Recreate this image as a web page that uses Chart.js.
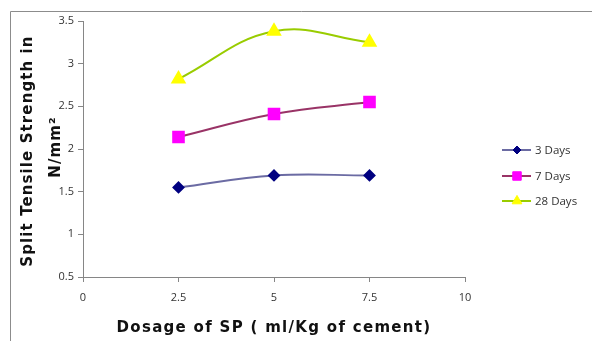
<!DOCTYPE html>
<html>
<head>
<meta charset="utf-8">
<script src="https://cdn.jsdelivr.net/npm/chart.js@4/dist/chart.umd.min.js"></script>
<style>
  html, body { margin: 0; padding: 0; background: #fff; }
  #wrap { width: 592px; height: 341px; position: relative; }
</style>
</head>
<body>
<div id="wrap"><canvas id="myChart" width="592" height="341"></canvas></div>
<script>
// data
var dosage = [2.5, 5, 7.5];
var days3 = [1.55, 1.69, 1.69];
var days7 = [2.14, 2.41, 2.55];
var days28 = [2.82, 3.38, 3.25];
var seriesNames = ['3 Days', '7 Days', '28 Days'];
var yTicks = [0.5, 1, 1.5, 2, 2.5, 3, 3.5];
var xTicks = [0, 2.5, 5, 7.5, 10];
var xTitle = 'Dosage of SP ( ml/Kg of cement)';
var yTitle = ['Split Tensile Strength in', 'N/mm\u00b2'];

function pts(vals) {
  return dosage.map(function (d, i) { return { x: d, y: vals[i] }; });
}

// outer frame like the pasted excel chart
var framePlugin = {
  id: 'frame',
  beforeDraw: function (chart) {
    var ctx = chart.ctx;
    ctx.save();
    ctx.strokeStyle = '#8c8c8c';
    ctx.lineWidth = 1;
    ctx.beginPath();
    ctx.moveTo(10.5, 341);
    ctx.lineTo(10.5, 11.5);
    ctx.lineTo(592, 11.5);
    ctx.stroke();
    ctx.restore();
  }
};

// axis titles drawn by hand so they get the wide letter spacing
var titlePlugin = {
  id: 'axisTitles',
  afterDraw: function (chart) {
    var ctx = chart.ctx;
    var area = chart.chartArea;
    ctx.save();
    ctx.fillStyle = '#111';
    ctx.font = 'bold 15px "DejaVu Sans"';
    ctx.letterSpacing = '1.3px';
    ctx.textAlign = 'center';
    ctx.textBaseline = 'middle';
    ctx.fillText(xTitle, (area.left + area.right) / 2, 328);
    ctx.translate(0, 151);
    ctx.rotate(-Math.PI / 2);
    ctx.letterSpacing = '1.1px';
    ctx.fillText(yTitle[0], 0, 28);
    ctx.fillText(yTitle[1], 4, 56);
    ctx.restore();
  }
};

// legend with line + marker, drawn by hand
var legendPlugin = {
  id: 'sideLegend',
  afterDraw: function (chart) {
    var ctx = chart.ctx;
    var rows = [150, 176, 201];
    chart.data.datasets.forEach(function (ds, i) {
      var y = rows[i];
      ctx.save();
      ctx.strokeStyle = ds.borderColor;
      ctx.lineWidth = 2;
      ctx.beginPath();
      ctx.moveTo(502, y);
      ctx.lineTo(531, y);
      ctx.stroke();
      ctx.fillStyle = ds.pointBackgroundColor;
      ctx.strokeStyle = ds.pointBorderColor;
      ctx.lineWidth = 1;
      Chart.helpers.drawPoint(ctx, { pointStyle: ds.pointStyle, radius: ds.pointRadius * 0.8, borderWidth: 1 }, 517, y);
      ctx.fillStyle = '#333';
      ctx.font = '11.5px "Open Sans"';
      ctx.textBaseline = 'middle';
      ctx.fillText(ds.label, 535, y + 1);
      ctx.restore();
    });
  }
};

var ctx = document.getElementById('myChart');
var myChart = new Chart(ctx, {
  type: 'line',
  data: {
    datasets: [
      {
        label: seriesNames[0],
        data: pts(days3),
        borderColor: '#6b6ba3',
        borderWidth: 2,
        pointStyle: 'rectRot',
        pointRadius: 5,
        pointBackgroundColor: '#000080',
        pointBorderColor: '#000080',
        tension: 0.4
      },
      {
        label: seriesNames[1],
        data: pts(days7),
        borderColor: '#993366',
        borderWidth: 2,
        pointStyle: 'rect',
        pointRadius: 7.5,
        pointBackgroundColor: '#ff00ff',
        pointBorderColor: '#ff00ff',
        tension: 0.4
      },
      {
        label: seriesNames[2],
        data: pts(days28),
        borderColor: '#99cc00',
        borderWidth: 2,
        pointStyle: 'triangle',
        pointRadius: 7,
        pointBackgroundColor: '#ffff00',
        pointBorderColor: '#ffff00',
        tension: 0.4
      }
    ]
  },
  options: {
    responsive: false,
    animation: false,
    layout: { padding: { left: 12, right: 127, top: 21, bottom: 0 } },
    plugins: {
      legend: { display: false },
      tooltip: { enabled: false }
    },
    scales: {
      x: {
        type: 'linear',
        min: 0,
        max: 10,
        afterBuildTicks: function (scale) {
          scale.ticks = xTicks.map(function (v) { return { value: v }; });
        },
        afterFit: function (scale) { scale.height = 64; },
        grid: { display: true, drawOnChartArea: false, drawTicks: true, tickLength: 5, color: '#868686' },
        border: { color: '#868686' },
        ticks: {
          color: '#333', font: { family: 'Open Sans', size: 11 }, padding: 9, maxRotation: 0,
          callback: function (v) { return String(v); }
        }
      },
      y: {
        min: 0.5,
        max: 3.5,
        afterBuildTicks: function (scale) {
          scale.ticks = yTicks.map(function (v) { return { value: v }; });
        },
        afterFit: function (scale) { scale.width = 71; },
        grid: { display: true, drawOnChartArea: false, drawTicks: true, tickLength: 5, color: '#868686' },
        border: { color: '#868686' },
        ticks: {
          color: '#333', font: { family: 'Open Sans', size: 11 }, padding: 4,
          callback: function (v) { return String(v); }
        }
      }
    }
  },
  plugins: [framePlugin, titlePlugin, legendPlugin]
});
</script>
</body>
</html>
